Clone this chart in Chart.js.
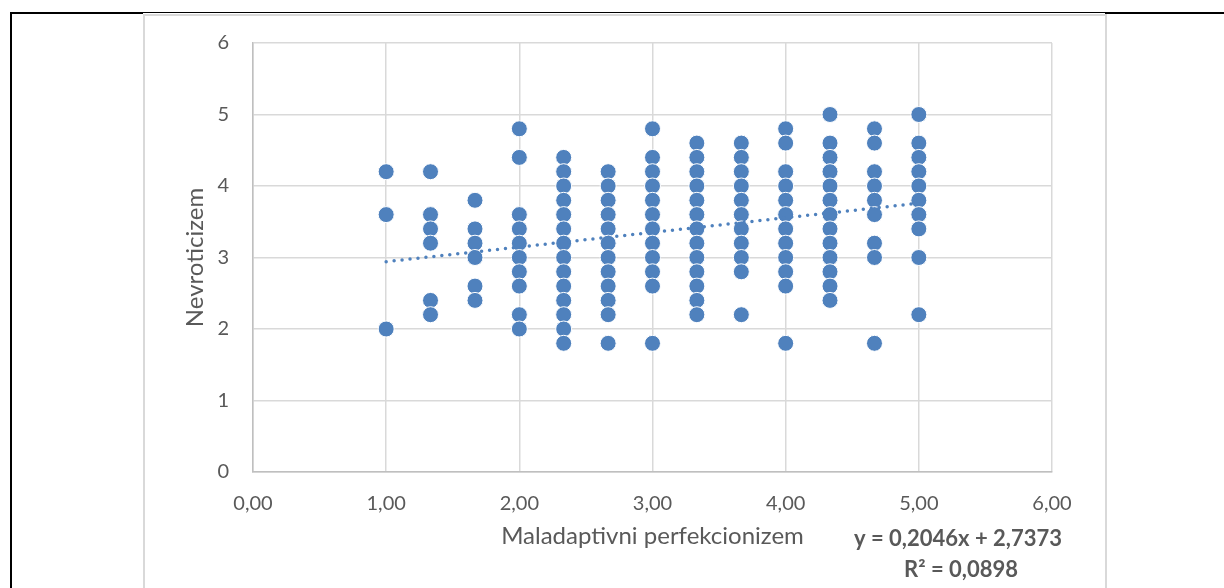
<!DOCTYPE html>
<html>
<head>
<meta charset="utf-8">
<script src="https://cdn.jsdelivr.net/npm/chart.js@4.4.1/dist/chart.umd.min.js"></script>
<style>
  body { margin: 0; background: #fff; }
  #page { position: relative; width: 1224px; height: 588px; overflow: hidden; }
  .line { position: absolute; background: #000; }
  #box { position: absolute; left: 143px; top: 14px; width: 960px; height: 600px;
         border: 2px solid #d9d9d9; border-bottom: none; }
  canvas { position: absolute; left: 0; top: 0; }
</style>
</head>
<body>
<div id="page">
  <div class="line" style="left:10px; top:12px; width:1214px; height:1px;"></div>
  <div class="line" style="left:10px; top:12px; width:133px; height:2px;"></div>
  <div class="line" style="left:1105px; top:12px; width:119px; height:2px;"></div>
  <div class="line" style="left:10px; top:12px; width:2px; height:576px;"></div>
  <div id="box"></div>
  <canvas id="chart" width="1224" height="588"></canvas>
</div>
<script>
// x position of each column of points
const columnX = [1.00, 1.333, 1.667, 2.00, 2.333, 2.667, 3.00, 3.333, 3.667, 4.00, 4.333, 4.667, 5.00];

// Nevroticizem values seen in each column
const columnY = [
  [4.2, 3.6, 2.0],
  [4.2, 3.6, 3.4, 3.2, 2.4, 2.2],
  [3.8, 3.4, 3.2, 3.0, 2.6, 2.4],
  [4.8, 4.4, 3.6, 3.4, 3.2, 3.0, 2.8, 2.6, 2.2, 2.0],
  [4.4, 4.2, 4.0, 3.8, 3.6, 3.4, 3.2, 3.0, 2.8, 2.6, 2.4, 2.2, 2.0, 1.8],
  [4.2, 4.0, 3.8, 3.6, 3.4, 3.2, 3.0, 2.8, 2.6, 2.4, 2.2, 1.8],
  [4.8, 4.4, 4.2, 4.0, 3.8, 3.6, 3.4, 3.2, 3.0, 2.8, 2.6, 1.8],
  [4.6, 4.4, 4.2, 4.0, 3.8, 3.6, 3.4, 3.2, 3.0, 2.8, 2.6, 2.4, 2.2],
  [4.6, 4.4, 4.2, 4.0, 3.8, 3.6, 3.4, 3.2, 3.0, 2.8, 2.2],
  [4.8, 4.6, 4.2, 4.0, 3.8, 3.6, 3.4, 3.2, 3.0, 2.8, 2.6, 1.8],
  [5.0, 4.6, 4.4, 4.2, 4.0, 3.8, 3.6, 3.4, 3.2, 3.0, 2.8, 2.6, 2.4],
  [4.8, 4.6, 4.2, 4.0, 3.8, 3.6, 3.2, 3.0, 1.8],
  [5.0, 4.6, 4.4, 4.2, 4.0, 3.8, 3.6, 3.4, 3.0, 2.2]
];

// linear trendline end points
const trendX = [1.00, 5.00];
const trendY = [2.942, 3.760];
const equationText = "y = 0,2046x + 2,7373";
const rSquaredText = "R² = 0,0898";

const xTitle = "Maladaptivni perfekcionizem";
const yTitle = "Nevroticizem";

const blue = "#4f81bd";
const textGray = "#595959";
const fontFamily = "Lato, 'Open Sans', sans-serif";

const points = [];
columnX.forEach((x, i) => {
  columnY[i].forEach((y) => points.push({ x: x, y: y }));
});

// writes the trendline equation next to the x title
const equationPlugin = {
  id: "equation",
  afterDraw(chart) {
    const ctx = chart.ctx;
    ctx.save();
    ctx.fillStyle = textGray;
    ctx.font = "bold 22px " + fontFamily;
    ctx.textAlign = "center";
    ctx.textBaseline = "middle";
    ctx.fillText(equationText, 958, 539);
    ctx.fillText(rSquaredText, 961, 570);
    ctx.restore();
  }
};

new Chart(document.getElementById("chart"), {
  type: "scatter",
  data: {
    datasets: [
      {
        data: points,
        backgroundColor: blue,
        borderColor: "#ffffff",
        borderWidth: 1,
        pointRadius: 8,
        pointHoverRadius: 8,
        order: 2
      },
      {
        type: "line",
        data: trendX.map((x, i) => ({ x: x, y: trendY[i] })),
        borderColor: blue,
        borderWidth: 3.5,
        borderDash: [0, 8],
        borderCapStyle: "round",
        pointRadius: 0,
        fill: false,
        order: 1
      }
    ]
  },
  options: {
    responsive: false,
    animation: false,
    events: [],
    layout: { padding: { left: 180, right: 172, top: 43, bottom: 0 } },
    plugins: { legend: { display: false }, tooltip: { enabled: false } },
    scales: {
      x: {
        min: 0, max: 6,
        afterFit: (scale) => { scale.height = 116; },
        ticks: {
          stepSize: 1,
          padding: 20,
          color: textGray,
          font: { family: fontFamily, size: 20 },
          callback: (v) => v.toFixed(2).replace(".", ",")
        },
        grid: { color: "#d9d9d9", lineWidth: 1.5, drawTicks: false },
        border: { color: "#bfbfbf", width: 1.5 },
        title: {
          display: true, text: xTitle, color: textGray,
          font: { family: fontFamily, size: 24 },
          padding: { top: 0, bottom: 37 }
        }
      },
      y: {
        min: 0, max: 6,
        afterFit: (scale) => { scale.width = 73; },
        ticks: {
          stepSize: 1,
          padding: 24,
          color: textGray,
          font: { family: fontFamily, size: 20 }
        },
        grid: { color: "#d9d9d9", lineWidth: 1.5, drawTicks: false },
        border: { color: "#bfbfbf", width: 1.5 },
        title: {
          display: true, text: yTitle, color: textGray,
          font: { family: fontFamily, size: 24 },
          padding: { top: 1, bottom: 0 }
        }
      }
    }
  },
  plugins: [equationPlugin]
});
</script>
</body>
</html>
